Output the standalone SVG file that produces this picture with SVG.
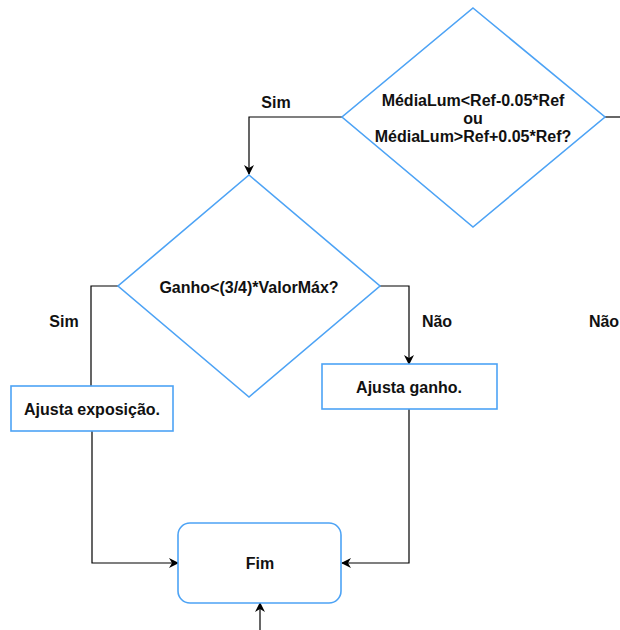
<svg xmlns="http://www.w3.org/2000/svg" width="620" height="630" viewBox="0 0 620 630">
  <style>
    .shape { fill: #ffffff; stroke: #4da3f5; stroke-width: 1.6; }
    .edge { fill: none; stroke: #000000; stroke-width: 1.2; }
    text { font-family: "Liberation Sans", Arial, sans-serif; font-size: 16px; font-weight: bold; fill: #111111; text-anchor: middle; }
  </style>
  <defs>
    <marker id="arrow" viewBox="0 0 10 10" refX="9" refY="5" markerWidth="10" markerHeight="10" markerUnits="userSpaceOnUse" orient="auto">
      <path d="M0,0 L10,5 L0,10 L3,5 Z" fill="#000000"/>
    </marker>
  </defs>
  <rect width="620" height="630" fill="#ffffff"/>

  <g id="connectors">
    <!-- exits to the right from the first decision -->
    <path class="edge" d="M605,117 L620,117"/>
    <!-- Sim: first decision to second decision -->
    <path class="edge" d="M342,117 L249,117 L249,174" marker-end="url(#arrow)"/>
    <!-- Sim: second decision to Ajusta exposição -->
    <path class="edge" d="M118,286 L91,286 L91,386"/>
    <!-- Não: second decision to Ajusta ganho -->
    <path class="edge" d="M380,286 L409,286 L409,364" marker-end="url(#arrow)"/>
    <!-- Ajusta exposição to Fim -->
    <path class="edge" d="M92,431 L92,563 L178,563" marker-end="url(#arrow)"/>
    <!-- Ajusta ganho to Fim -->
    <path class="edge" d="M409,409 L409,563 L342,563" marker-end="url(#arrow)"/>
    <!-- incoming from below to Fim -->
    <path class="edge" d="M260,630 L260,603" marker-end="url(#arrow)"/>
    <text x="276" y="108">Sim</text>
    <text x="64" y="327">Sim</text>
    <text x="437" y="327">Não</text>
    <text x="604" y="327">Não</text>
  </g>

  <g id="decision-lum">
    <polygon class="shape" points="473,8 605,117 473,227 342,117"/>
    <text x="473" y="106">MédiaLum&lt;Ref-0.05*Ref</text>
    <text x="473" y="124">ou</text>
    <text x="473" y="142">MédiaLum&gt;Ref+0.05*Ref?</text>
  </g>

  <g id="decision-ganho">
    <polygon class="shape" points="249,175 380,286 249,397 118,286"/>
    <text x="249" y="293">Ganho&lt;(3/4)*ValorMáx?</text>
  </g>

  <g id="ajusta-exposicao">
    <rect class="shape" x="11" y="386" width="162" height="45"/>
    <text x="92" y="415">Ajusta exposição.</text>
  </g>

  <g id="ajusta-ganho">
    <rect class="shape" x="322" y="364" width="175" height="45"/>
    <text x="409" y="393">Ajusta ganho.</text>
  </g>

  <g id="fim">
    <rect class="shape" x="178" y="523" width="163" height="80" rx="12" ry="12"/>
    <text x="260" y="569">Fim</text>
  </g>
</svg>
